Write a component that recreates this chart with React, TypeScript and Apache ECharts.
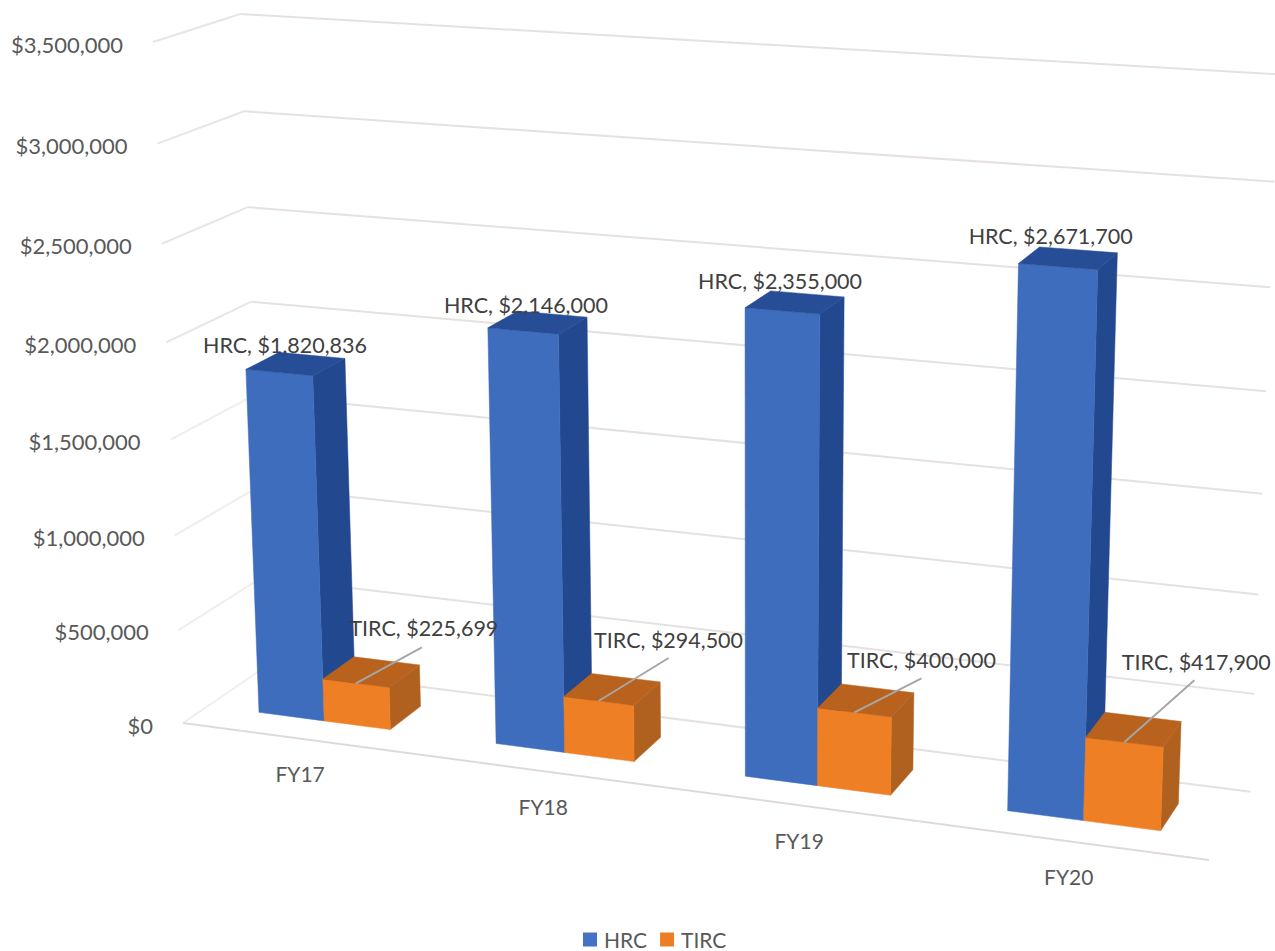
import React, { useEffect, useRef } from "react";
import * as echarts from "echarts";

const categories = ["FY17", "FY18", "FY19", "FY20"];
const hrcValues = [1820836, 2146000, 2355000, 2671700];
const tircValues = [225699, 294500, 400000, 417900];
const yTicks = [0, 500000, 1000000, 1500000, 2000000, 2500000, 3000000, 3500000];

const WIDTH = 1275;
const HEIGHT = 951;
const FONT = "Lato, 'Open Sans', sans-serif";

// Projective box: origin, axis end points and the convergence weight of each axis
const O = [183, 723];
const U_END = [1209, 860];
const V_END = [265, 667];
const W_END = [153, 42];
const WU = 0.902;
const WV = 1.045;
const WW = 0.95;

function project(u: number, v: number, w: number) {
  const den = 1 + (WU - 1) * u + (WV - 1) * v + (WW - 1) * w;
  return [0, 1].map(
    (k) =>
      O[k] +
      (u * WU * (U_END[k] - O[k]) + v * WV * (V_END[k] - O[k]) + w * WW * (W_END[k] - O[k])) / den
  );
}

const BAR_DU = 0.07;
const BAR_V0 = 0.3;
const BAR_V1 = 0.7;

const toUW = (pt: number[]) => [pt[0] / WIDTH, (HEIGHT - pt[1]) / HEIGHT];
const money = (n: number) => "$" + n.toLocaleString("en-US");

const hrcLabelShift = [[-44, -22], [-47, -21], [-52, -24], [-57, -25]];
const tircLeaderEnd = [[66, -36], [70, -43], [67, -34], [70, -62]];
const tircLabelShift = [[2, -19], [0, -18], [0, -18], [2, -18]];

function makeBar(side: number, colors: { front: string; top: string; side: string }, leader: boolean) {
  return (_: any, api: any) => {
    const i = api.value(0);
    const val = api.value(1);
    const [uc, w] = toUW(api.coord([i, val]));
    const u0 = side < 0 ? uc - BAR_DU : uc;
    const u1 = side < 0 ? uc : uc + BAR_DU;
    const p = (u: number, v: number, h: number) => project(u, v, h);
    const front = [p(u0, BAR_V0, 0), p(u1, BAR_V0, 0), p(u1, BAR_V0, w), p(u0, BAR_V0, w)];
    const top = [p(u0, BAR_V0, w), p(u1, BAR_V0, w), p(u1, BAR_V1, w), p(u0, BAR_V1, w)];
    const right = [p(u1, BAR_V0, 0), p(u1, BAR_V1, 0), p(u1, BAR_V1, w), p(u1, BAR_V0, w)];
    const children: any[] = [
      { type: "polygon", shape: { points: right }, style: { fill: colors.side, stroke: colors.side, lineWidth: 0.5 } },
      { type: "polygon", shape: { points: front }, style: { fill: colors.front, stroke: colors.front, lineWidth: 0.5 } },
      { type: "polygon", shape: { points: top }, style: { fill: colors.top, stroke: colors.top, lineWidth: 0.5 } },
    ];
    const name = (leader ? "TIRC" : "HRC") + ", " + money(val);
    const labelStyle = { fill: "#404040", font: `21.5px ${FONT}`, align: "center", verticalAlign: "middle" };
    if (leader) {
      const s = p((u0 + u1) / 2, BAR_V0, w);
      const e = [s[0] + tircLeaderEnd[i][0], s[1] + tircLeaderEnd[i][1]];
      children.push({
        type: "line",
        shape: { x1: s[0], y1: s[1], x2: e[0], y2: e[1] },
        style: { stroke: "#a6a6a6", lineWidth: 2 },
      });
      children.push({
        type: "text",
        style: { ...labelStyle, text: name, x: e[0] + tircLabelShift[i][0], y: e[1] + tircLabelShift[i][1] },
      });
    } else {
      const c = p(u1, (BAR_V0 + BAR_V1) / 2, w);
      children.push({
        type: "text",
        style: { ...labelStyle, text: name, x: c[0] + hrcLabelShift[i][0], y: c[1] + hrcLabelShift[i][1] },
      });
    }
    return { type: "group", children };
  };
}

function renderGrid(_: any, api: any) {
  const tick = api.value(1);
  const w = toUW(api.coord([0, tick]))[1];
  const a = project(0, 0, w);
  const b = project(0, 1, w);
  const c = project(1, 1, w);
  const leftStroke = tick >= 2000000 ? "#e9e5e2" : "#f0edeb";
  return {
    type: "group",
    children: [
      {
        type: "line",
        shape: { x1: a[0], y1: a[1], x2: b[0], y2: b[1] },
        style: { stroke: leftStroke, lineWidth: 2 },
      },
      {
        type: "line",
        shape: { x1: b[0], y1: b[1], x2: c[0], y2: c[1] },
        style: { stroke: "#e6e1de", lineWidth: 2 },
      },
      {
        type: "text",
        style: {
          text: money(tick),
          x: a[0] - 30,
          y: a[1] + 2,
          fill: "#595959",
          font: `22px ${FONT}`,
          align: "right",
          verticalAlign: "middle",
        },
      },
    ],
  };
}

function renderFloorFront(_: any, api: any) {
  const a = project(0, 0, 0);
  const b = project(1, 0, 0);
  return {
    type: "line",
    shape: { x1: a[0], y1: a[1], x2: b[0], y2: b[1] },
    style: { stroke: "#e0dad7", lineWidth: 2 },
  };
}

function renderCategory(_: any, api: any) {
  const i = api.value(0);
  const uc = toUW(api.coord([i, 0]))[0];
  const p = project(uc, 0, 0);
  return {
    type: "text",
    style: {
      text: categories[i],
      x: p[0],
      y: p[1] + 35,
      fill: "#595959",
      font: `21px ${FONT}`,
      align: "center",
      verticalAlign: "middle",
    },
  };
}

export default function App() {
  const ref = useRef<HTMLDivElement>(null);
  useEffect(() => {
    const chart = echarts.init(ref.current!, undefined, { renderer: "svg" });
    chart.setOption({
      animation: false,
      backgroundColor: "#ffffff",
      grid: { left: 0, top: 0, right: 0, bottom: 0 },
      xAxis: { type: "category", data: categories, show: false },
      yAxis: { type: "value", min: 0, max: 3500000, interval: 500000, show: false },
      legend: {
        data: ["HRC", "TIRC"],
        left: 583,
        top: 929,
        itemWidth: 14,
        itemHeight: 14,
        itemGap: 13,
        icon: "rect",
        padding: 0,
        textStyle: { color: "#595959", fontSize: 21, fontFamily: FONT, padding: [0, 0, 0, 2] },
      },
      series: [
        { type: "custom", name: "walls", renderItem: renderGrid, data: yTicks.map((t) => [0, t]), silent: true, z: 1 },
        { type: "custom", name: "floor", renderItem: renderFloorFront, data: [[0, 0]], silent: true, z: 1 },
        { type: "custom", name: "categories", renderItem: renderCategory, data: categories.map((_, i) => [i, 0]), silent: true, z: 1 },
        {
          type: "custom",
          name: "HRC",
          itemStyle: { color: "#4472c4" },
          renderItem: makeBar(-1, { front: "#3f6dbe", top: "#264d96", side: "#22488f" }, false),
          data: hrcValues.map((v, i) => [i, v]),
          z: 2,
        },
        {
          type: "custom",
          name: "TIRC",
          itemStyle: { color: "#ed7d22" },
          renderItem: makeBar(1, { front: "#ee7f24", top: "#b8621e", side: "#b0601f" }, true),
          data: tircValues.map((v, i) => [i, v]),
          z: 3,
        },
      ],
    });
    return () => chart.dispose();
  }, []);
  return (
    <div
      ref={ref}
      style={{ position: "fixed", left: 0, top: 0, width: WIDTH, height: HEIGHT, overflow: "hidden" }}
    />
  );
}
